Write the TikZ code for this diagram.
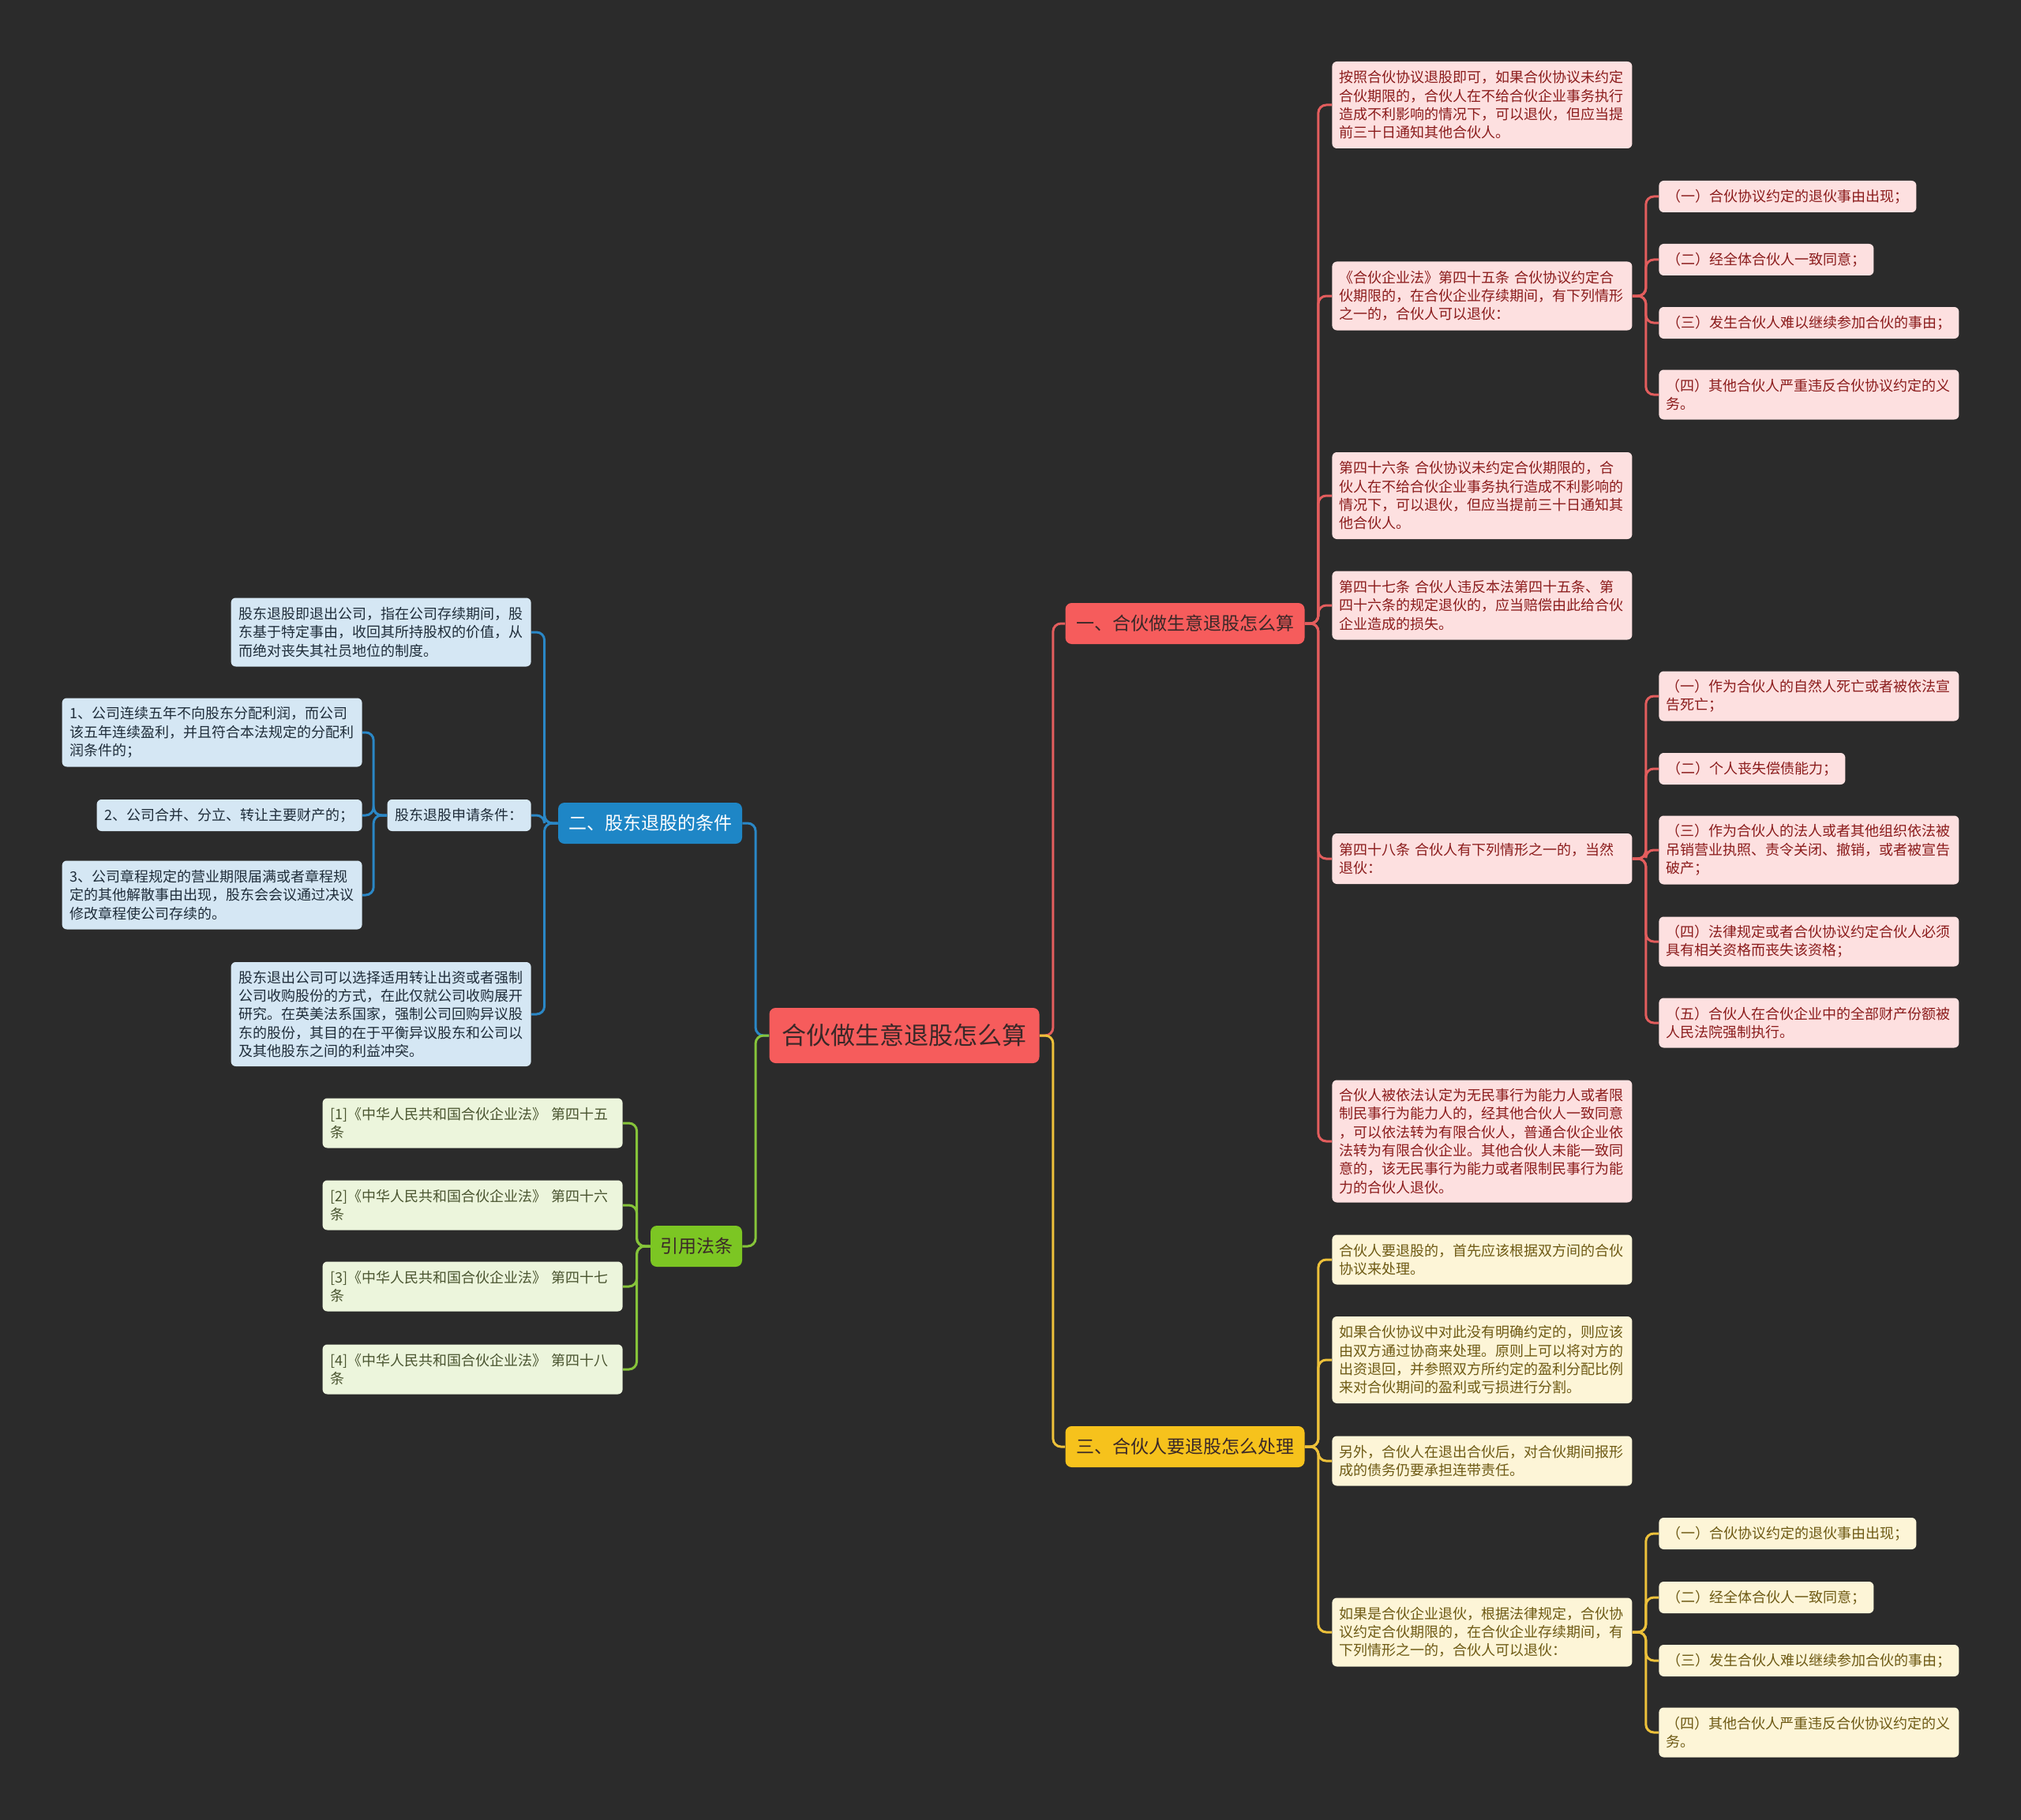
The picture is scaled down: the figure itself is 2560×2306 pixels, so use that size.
\documentclass[tikz,border=0pt]{standalone}
\usepackage{fontspec}
\newfontfamily\cjk{Noto Sans CJK SC}
\definecolor{bg}{HTML}{2B2B2B}
\definecolor{redmain}{HTML}{F65C5C}
\definecolor{redlight}{HTML}{FDE0E0}
\definecolor{redtext}{HTML}{8B1C1C}
\definecolor{redline}{HTML}{E35D5D}
\definecolor{bluemain}{HTML}{1E86C6}
\definecolor{bluelight}{HTML}{D5E7F4}
\definecolor{bluetext}{HTML}{1F2D3A}
\definecolor{blueline}{HTML}{2A87C6}
\definecolor{greenmain}{HTML}{7CC623}
\definecolor{greenlight}{HTML}{ECF5DC}
\definecolor{greentext}{HTML}{4A5530}
\definecolor{greenline}{HTML}{86C43A}
\definecolor{yelmain}{HTML}{F6C21C}
\definecolor{yellight}{HTML}{FDF5D7}
\definecolor{yeltext}{HTML}{6E5A14}
\definecolor{yelline}{HTML}{EDC13A}
\definecolor{roottext}{HTML}{3A2828}
\begin{document}
\begin{tikzpicture}[x=0.5pt,y=-0.5pt,
  base/.style={rounded corners=3pt, font={\cjk\fontsize{9}{11.65}\selectfont}, inner xsep=5pt, inner ysep=0pt, align=left},
  wide/.style={text width=180.5pt, inner xsep=4.75pt},
  rbox/.style={base, fill=redlight, text=redtext},
  bbox/.style={base, fill=bluelight, text=bluetext},
  gbox/.style={base, fill=greenlight, text=greentext},
  ybox/.style={base, fill=yellight, text=yeltext},
  mainbox/.style={rounded corners=4pt, inner sep=0pt, minimum height=26pt, align=center, font={\cjk\fontsize{11.5}{14}\selectfont}},
  rl/.style={draw=redline, line width=1.5pt, rounded corners=5pt},
  bl/.style={draw=blueline, line width=1.5pt, rounded corners=5pt},
  gl/.style={draw=greenline, line width=1.5pt, rounded corners=5pt},
  yl/.style={draw=yelline, line width=1.5pt, rounded corners=5pt}]
\useasboundingbox (0,0) rectangle (2560,2306);
\fill[bg] (0,0) rectangle (2560,2306);

% root and main branches
\node[mainbox, fill=redmain, text=roottext, minimum width=171pt, minimum height=35pt, font={\cjk\fontsize{15.5}{18}\selectfont}] (root) at (1145.5,1312) {合伙做生意退股怎么算};
\node[mainbox, fill=redmain, text=roottext, minimum width=151.5pt] (rm) at (1501,790) {一、合伙做生意退股怎么算};
\node[mainbox, fill=yelmain, text=roottext, minimum width=151.5pt] (ym) at (1501,1833) {三、合伙人要退股怎么处理};
\node[mainbox, fill=bluemain, text=white, minimum width=116.5pt] (bm) at (823.5,1043) {二、股东退股的条件};
\node[mainbox, fill=greenmain, text=roottext, minimum width=58pt] (gm) at (882,1579) {引用法条};

% red children
\node[rbox, wide, anchor=west, minimum height=55pt] (r1) at (1687,133) {按照合伙协议退股即可，如果合伙协议未约定\\合伙期限的，合伙人在不给合伙企业事务执行\\造成不利影响的情况下，可以退伙，但应当提\\前三十日通知其他合伙人。};
\node[rbox, wide, anchor=west, minimum height=43.5pt] (r2) at (1687,375) {《合伙企业法》第四十五条 合伙协议约定合\\伙期限的，在合伙企业存续期间，有下列情形\\之一的，合伙人可以退伙：};
\node[rbox, wide, anchor=west, minimum height=55pt] (r3) at (1687,628) {第四十六条 合伙协议未约定合伙期限的，合\\伙人在不给合伙企业事务执行造成不利影响的\\情况下，可以退伙，但应当提前三十日通知其\\他合伙人。};
\node[rbox, wide, anchor=west, minimum height=43.5pt] (r4) at (1687,767) {第四十七条 合伙人违反本法第四十五条、第\\四十六条的规定退伙的，应当赔偿由此给合伙\\企业造成的损失。};
\node[rbox, wide, anchor=west, minimum height=32pt] (r5) at (1687,1088) {第四十八条 合伙人有下列情形之一的，当然\\退伙：};
\node[rbox, wide, anchor=west, minimum height=77.5pt] (r6) at (1687,1446) {合伙人被依法认定为无民事行为能力人或者限\\制民事行为能力人的，经其他合伙人一致同意\\，可以依法转为有限合伙人，普通合伙企业依\\法转为有限合伙企业。其他合伙人未能一致同\\意的，该无民事行为能力或者限制民事行为能\\力的合伙人退伙。};

% red sub of r2
\node[rbox, anchor=west, minimum height=20pt] (s1) at (2101,249) {（一）合伙协议约定的退伙事由出现；};
\node[rbox, anchor=west, minimum height=20pt] (s2) at (2101,329) {（二）经全体合伙人一致同意；};
\node[rbox, anchor=west, minimum height=20pt] (s3) at (2101,409) {（三）发生合伙人难以继续参加合伙的事由；};
\node[rbox, wide, anchor=west, minimum height=31.5pt] (s4) at (2101,500) {（四）其他合伙人严重违反合伙协议约定的义\\务。};

% red sub of r5
\node[rbox, wide, anchor=west, minimum height=31.5pt] (t1) at (2101,882) {（一）作为合伙人的自然人死亡或者被依法宣\\告死亡；};
\node[rbox, anchor=west, minimum height=20pt] (t2) at (2101,974) {（二）个人丧失偿债能力；};
\node[rbox, wide, anchor=west, minimum height=43.5pt] (t3) at (2101,1077) {（三）作为合伙人的法人或者其他组织依法被\\吊销营业执照、责令关闭、撤销，或者被宣告\\破产；};
\node[rbox, wide, anchor=west, minimum height=31.5pt] (t4) at (2101,1193) {（四）法律规定或者合伙协议约定合伙人必须\\具有相关资格而丧失该资格；};
\node[rbox, wide, anchor=west, minimum height=31.5pt] (t5) at (2101,1296) {（五）合伙人在合伙企业中的全部财产份额被\\人民法院强制执行。};

% yellow children
\node[ybox, wide, anchor=west, minimum height=31.5pt] (y1) at (1687,1596) {合伙人要退股的，首先应该根据双方间的合伙\\协议来处理。};
\node[ybox, wide, anchor=west, minimum height=55pt] (y2) at (1687,1723) {如果合伙协议中对此没有明确约定的，则应该\\由双方通过协商来处理。原则上可以将对方的\\出资退回，并参照双方所约定的盈利分配比例\\来对合伙期间的盈利或亏损进行分割。};
\node[ybox, wide, anchor=west, minimum height=31.5pt] (y3) at (1687,1851) {另外，合伙人在退出合伙后，对合伙期间报形\\成的债务仍要承担连带责任。};
\node[ybox, wide, anchor=west, minimum height=43.5pt] (y4) at (1687,2068) {如果是合伙企业退伙，根据法律规定，合伙协\\议约定合伙期限的，在合伙企业存续期间，有\\下列情形之一的，合伙人可以退伙：};

\node[ybox, anchor=west, minimum height=20pt] (z1) at (2101,1943) {（一）合伙协议约定的退伙事由出现；};
\node[ybox, anchor=west, minimum height=20pt] (z2) at (2101,2024) {（二）经全体合伙人一致同意；};
\node[ybox, anchor=west, minimum height=20pt] (z3) at (2101,2104) {（三）发生合伙人难以继续参加合伙的事由；};
\node[ybox, wide, anchor=west, minimum height=31.5pt] (z4) at (2101,2195) {（四）其他合伙人严重违反合伙协议约定的义\\务。};

% blue children
\node[bbox, wide, anchor=east, minimum height=43.5pt] (b1) at (673,801) {股东退股即退出公司，指在公司存续期间，股\\东基于特定事由，收回其所持股权的价值，从\\而绝对丧失其社员地位的制度。};
\node[bbox, anchor=east, minimum height=20pt] (b2) at (673,1033) {股东退股申请条件：};
\node[bbox, wide, anchor=east, minimum height=66pt] (b3) at (673,1285) {股东退出公司可以选择适用转让出资或者强制\\公司收购股份的方式，在此仅就公司收购展开\\研究。在英美法系国家，强制公司回购异议股\\东的股份，其目的在于平衡异议股东和公司以\\及其他股东之间的利益冲突。};
\node[bbox, wide, anchor=east, minimum height=43.5pt] (ba) at (459,928) {1、公司连续五年不向股东分配利润，而公司\\该五年连续盈利，并且符合本法规定的分配利\\润条件的；};
\node[bbox, anchor=east, minimum height=20pt] (bb) at (459,1033) {2、公司合并、分立、转让主要财产的；};
\node[bbox, wide, anchor=east, minimum height=43.5pt] (bc) at (459,1134) {3、公司章程规定的营业期限届满或者章程规\\定的其他解散事由出现，股东会会议通过决议\\修改章程使公司存续的。};

% green children
\node[gbox, wide, anchor=east, minimum height=31.5pt] (g1) at (789,1423) {[1]《中华人民共和国合伙企业法》 第四十五\\条};
\node[gbox, wide, anchor=east, minimum height=31.5pt] (g2) at (789,1527) {[2]《中华人民共和国合伙企业法》 第四十六\\条};
\node[gbox, wide, anchor=east, minimum height=31.5pt] (g3) at (789,1630) {[3]《中华人民共和国合伙企业法》 第四十七\\条};
\node[gbox, wide, anchor=east, minimum height=31.5pt] (g4) at (789,1735) {[4]《中华人民共和国合伙企业法》 第四十八\\条};

% connectors
\draw[rl] (root.east) -- ++(17,0) |- (rm.west);
\draw[yl] (root.east) -- ++(17,0) |- (ym.west);
\draw[bl] (root.west) -- ++(-17,0) |- (bm.east);
\draw[gl] (root.west) -- ++(-17,0) |- (gm.east);
\foreach \c in {r1,r2,r3,r4,r5,r6} \draw[rl] (rm.east) -- ++(17,0) |- (\c.west);
\foreach \c in {s1,s2,s3,s4} \draw[rl] (r2.east) -- ++(17,0) |- (\c.west);
\foreach \c in {t1,t2,t3,t4,t5} \draw[rl] (r5.east) -- ++(17,0) |- (\c.west);
\foreach \c in {y1,y2,y3,y4} \draw[yl] (ym.east) -- ++(17,0) |- (\c.west);
\foreach \c in {z1,z2,z3,z4} \draw[yl] (y4.east) -- ++(17,0) |- (\c.west);
\foreach \c in {b1,b2,b3} \draw[bl] (bm.west) -- ++(-17,0) |- (\c.east);
\foreach \c in {ba,bb,bc} \draw[bl] (b2.west) -- ++(-17,0) |- (\c.east);
\foreach \c in {g1,g2,g3,g4} \draw[gl] (gm.west) -- ++(-17,0) |- (\c.east);
\end{tikzpicture}
\end{document}
